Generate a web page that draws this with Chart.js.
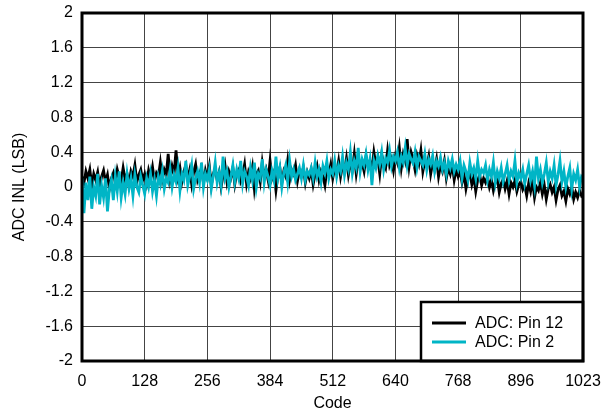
<!DOCTYPE html>
<html><head><meta charset="utf-8">
<script src="https://cdn.jsdelivr.net/npm/chart.js@4/dist/chart.umd.min.js"></script>
<style>html,body{margin:0;padding:0;background:#fff}#wrap{width:606px;height:413px;position:relative}</style>
</head><body><div id="wrap"><canvas id="c" width="606" height="413"></canvas></div>
<script>
const xTicks = [0,128,256,384,512,640,768,896,1023];
const yTicks = [-2,-1.6,-1.2,-0.8,-0.4,0,0.4,0.8,1.2,1.6,2];
const seriesNames = ["ADC: Pin 12","ADC: Pin 2"];
const pin12 = [
0.12,0.05,0.18,0.1,0.2,0.02,0.15,0.08,0.17,0.0,0.12,0.19,0.06,0.14,-0.02,0.1,
0.16,0.05,0.2,0.11,0.07,0.22,0.09,0.15,0.03,0.18,0.12,0.25,0.06,0.14,0.2,0.08,
0.15,0.04,0.19,0.1,0.23,0.07,0.16,0.12,0.28,0.09,0.2,0.14,0.38,0.1,0.24,0.15,
0.42,0.12,0.22,0.06,0.18,0.25,0.1,0.2,0.03,0.17,0.26,0.08,0.15,0.22,0.05,0.19,
0.1,0.24,0.02,0.15,0.21,0.08,0.17,0.0,0.13,0.25,0.06,0.18,0.11,0.22,0.03,0.16,
0.2,0.07,0.14,0.26,0.04,0.17,0.1,0.23,-0.02,0.15,0.19,0.06,0.28,0.12,0.2,0.08,
0.3,0.1,0.17,-0.04,0.14,0.22,0.05,0.18,0.12,0.3,0.08,0.2,0.15,0.25,0.07,0.19,
0.13,0.22,0.05,0.17,0.1,0.2,0.03,0.15,0.24,0.08,0.18,0.12,0.02,0.2,0.14,0.26,
0.1,0.22,0.16,0.3,0.12,0.25,0.18,0.33,0.14,0.27,0.2,0.38,0.15,0.3,0.22,0.28,
0.18,0.35,0.24,0.3,0.2,0.4,0.26,0.33,0.15,0.37,0.28,0.22,0.42,0.25,0.32,0.19,
0.35,0.28,0.45,0.22,0.38,0.3,0.55,0.24,0.4,0.32,0.2,0.36,0.27,0.42,0.18,0.3,
0.24,0.35,0.15,0.28,0.2,0.32,0.12,0.25,0.18,0.3,0.1,0.22,0.15,0.26,0.08,0.2,
0.12,0.18,0.05,0.15,-0.02,0.1,0.16,0.03,0.12,-0.05,0.08,0.14,0.02,0.1,0.05,0.12,
0.0,0.08,-0.04,0.06,0.1,-0.06,0.04,0.09,-0.02,0.07,-0.08,0.05,0.0,0.08,-0.05,0.03,
0.06,-0.03,0.02,-0.1,0.04,-0.05,0.07,-0.12,0.0,-0.04,0.05,-0.08,0.02,-0.14,-0.02,0.03,
-0.06,0.0,-0.15,-0.03,0.02,-0.1,-0.05,-0.16,-0.02,-0.08,0.0,-0.14,-0.06,-0.12,-0.04,-0.1,
-0.08];
const pin2 = [
0.1,-0.3,0.05,-0.15,0.12,-0.25,0.0,-0.1,0.15,-0.2,0.02,-0.12,0.1,-0.28,-0.02,0.08,
-0.15,0.12,-0.05,0.18,-0.12,0.05,-0.08,0.15,-0.02,0.1,-0.1,0.14,0.0,-0.06,0.12,0.02,
-0.08,0.1,0.0,0.15,-0.05,0.08,-0.1,0.12,0.03,0.18,-0.02,0.1,0.05,0.2,0.0,0.14,
0.06,0.22,-0.04,0.15,0.08,0.3,0.02,0.12,0.25,-0.02,0.1,0.18,0.05,0.28,0.0,0.15,
0.08,0.2,-0.02,0.12,0.28,0.05,0.16,0.02,0.35,0.1,0.18,0.0,0.12,0.25,0.06,0.2,
0.1,0.3,0.04,0.18,0.12,0.02,0.22,0.08,0.28,0.0,0.15,0.1,0.32,0.05,0.2,0.12,
0.02,0.18,0.08,0.35,0.1,0.22,0.0,0.16,0.25,0.06,0.3,0.12,0.2,0.08,0.15,0.22,
0.1,0.25,0.08,0.18,0.14,0.22,0.1,0.28,0.12,0.2,0.06,0.24,0.16,0.3,0.1,0.2,
0.15,0.3,0.12,0.25,0.18,0.35,0.14,0.28,0.2,0.4,0.16,0.3,0.22,0.45,0.18,0.32,
0.25,0.38,0.2,0.32,0.02,0.3,0.22,0.36,0.26,0.4,0.2,0.33,0.28,0.42,0.24,0.35,
0.3,0.4,0.22,0.35,0.28,0.45,0.25,0.38,0.32,0.27,0.4,0.22,0.35,0.3,0.25,0.38,
0.2,0.32,0.26,0.36,0.18,0.3,0.24,0.34,0.2,0.28,0.15,0.3,0.22,0.32,0.18,0.26,
0.2,0.3,0.1,0.25,0.18,0.08,0.28,0.15,0.22,0.1,0.3,0.12,0.2,0.16,0.25,0.08,
0.2,0.12,0.28,0.05,0.18,0.1,0.22,0.06,0.15,0.25,0.08,0.18,0.12,0.3,0.05,0.16,
0.1,0.2,0.04,0.15,0.25,0.08,0.18,0.02,0.35,0.1,0.2,0.05,0.15,0.28,0.06,0.18,
0.1,0.25,0.02,0.14,0.3,0.06,0.18,0.0,0.12,0.22,-0.02,0.15,0.08,0.2,0.0,0.12,
0.1];
const codes = pin12.map((_, i) => Math.min(i * 4, 1023));
const colors = ["#000000", "#00B5C6"];

const toPts = arr => arr.map((v, i) => ({x: codes[i], y: v}));
const FONT = "'Liberation Sans', Arial, sans-serif";

const framePlugin = {
  id: 'frame',
  afterDatasetsDraw(chart) {
    const {ctx, chartArea: a} = chart;
    ctx.save();
    const bw = 162, bh = 59;
    const bx = a.right - bw, by = a.bottom - bh;
    ctx.fillStyle = '#fff';
    ctx.fillRect(bx, by, bw, bh);
    ctx.strokeStyle = '#000';
    ctx.lineWidth = 2.5;
    ctx.strokeRect(bx, by, bw, bh);
    ctx.font = "16px " + FONT;
    ctx.textBaseline = 'middle';
    const rows = [by + 21, by + 40];
    seriesNames.forEach((n, i) => {
      ctx.strokeStyle = colors[i];
      ctx.lineWidth = 3;
      ctx.beginPath();
      ctx.moveTo(bx + 11, rows[i]);
      ctx.lineTo(bx + 45, rows[i]);
      ctx.stroke();
      ctx.fillStyle = '#000';
      ctx.fillText(n, bx + 54, rows[i] + 1);
    });
    ctx.strokeStyle = '#000';
    ctx.lineWidth = 3;
    ctx.strokeRect(a.left, a.top, a.right - a.left, a.bottom - a.top);
    ctx.restore();
  }
};

new Chart(document.getElementById('c'), {
  type: 'line',
  data: {
    datasets: [
      {label: seriesNames[1], data: toPts(pin2), borderColor: colors[1], borderWidth: 2.8, pointRadius: 0, tension: 0},
      {label: seriesNames[0], data: toPts(pin12), borderColor: colors[0], borderWidth: 2.8, pointRadius: 0, tension: 0}
    ]
  },
  options: {
    responsive: false,
    animation: false,
    layout: {padding: {left: 10, right: 23, top: 13, bottom: 0}},
    plugins: {legend: {display: false}, tooltip: {enabled: false}},
    scales: {
      x: {
        type: 'linear', min: 0, max: 1023,
        afterBuildTicks: s => { s.ticks = xTicks.map(v => ({value: v})); },
        afterFit: s => { s.height = 52; s.paddingLeft = 0; s.paddingRight = 0; },
        grid: {color: '#444', lineWidth: 1, drawTicks: false},
        border: {display: false},
        ticks: {color: '#000', font: {size: 16, family: FONT}, padding: 11, maxRotation: 0, autoSkip: false,
                callback: v => String(v)},
        title: {display: true, text: 'Code', color: '#000', font: {size: 16, family: FONT}, padding: {top: 0, bottom: 0}}
      },
      y: {
        type: 'linear', min: -2, max: 2,
        afterBuildTicks: s => { s.ticks = yTicks.map(v => ({value: v})); },
        afterFit: s => { s.width = 72; s.paddingTop = 0; s.paddingBottom = 0; },
        grid: {color: '#444', lineWidth: 1, drawTicks: false},
        border: {display: false},
        ticks: {color: '#000', font: {size: 16, family: FONT}, padding: 9, autoSkip: false,
                callback: v => String(Math.round(v * 10) / 10)},
        title: {display: true, text: 'ADC INL (LSB)', color: '#000', font: {size: 16, family: FONT}, padding: {top: 0, bottom: 4}}
      }
    }
  },
  plugins: [framePlugin]
});
</script></body></html>
